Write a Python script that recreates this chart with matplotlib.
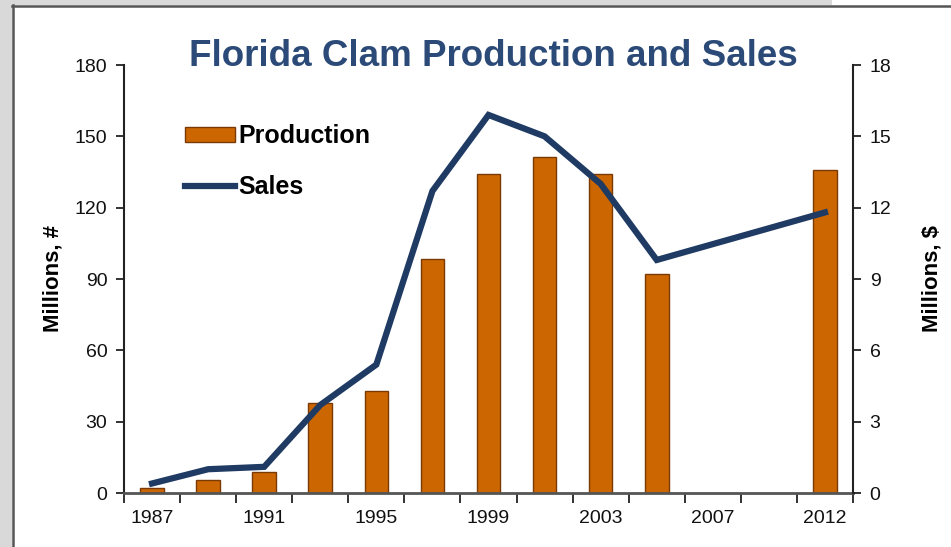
import matplotlib
matplotlib.use("Agg")
import matplotlib.pyplot as plt
from matplotlib.patches import Rectangle
from matplotlib.lines import Line2D
import numpy as np

plt.rcParams['font.family'] = ['Liberation Sans', 'DejaVu Sans']

years = ["1987", "1989", "1991", "1993", "1995", "1997", "1999",
         "2001", "2003", "2005", "2007", "2010", "2012"]
production = [2, 5.5, 9, 38, 43, 98.5, 134, 141.5, 134, 92, None, None, 136]   # millions of clams
sales = [0.4, 1.0, 1.1, 3.7, 5.4, 12.7, 15.9, 15.0, 13.0, 9.8, None, None, 11.8]  # millions of dollars
shown_labels = ["1987", "1991", "1995", "1999", "2003", "2007", "2012"]

BAR_COLOR = "#CC6600"
BAR_EDGE = "#7A3A05"
LINE_COLOR = "#1F3B63"
TITLE_COLOR = "#2B4A78"
AXIS_COLOR = "#222222"

fig = plt.figure(figsize=(9.51, 5.47), dpi=100)

# grey window frame around the slide
fig.patches.append(Rectangle((0, 0), 12 / 951, 1, transform=fig.transFigure,
                             facecolor="#D9D9D9", edgecolor="none", zorder=0))
fig.patches.append(Rectangle((0, 1 - 5 / 547), 832 / 951, 5 / 547, transform=fig.transFigure,
                             facecolor="#D9D9D9", edgecolor="none", zorder=0))
fig.lines.append(Line2D([13 / 951, 13 / 951], [0, 1 - 5 / 547], transform=fig.transFigure,
                        color="#555555", lw=1.8))
fig.lines.append(Line2D([12 / 951, 1], [1 - 5.5 / 547, 1 - 5.5 / 547], transform=fig.transFigure,
                        color="#555555", lw=1.8))

ax = fig.add_axes([124 / 951, 1 - 493 / 547, (853 - 124) / 951, (493 - 65) / 547])
ax.patch.set_alpha(0)
x = np.arange(len(years))

bx = [i for i, v in zip(x, production) if v is not None]
bv = [v for v in production if v is not None]
ax.bar(bx, bv, width=0.42, color=BAR_COLOR, edgecolor=BAR_EDGE, linewidth=1.0,
       label="Production", zorder=2)

ax.set_xlim(-0.5, len(years) - 0.5)
ax.set_ylim(0, 180)
ax.set_yticks(range(0, 181, 30))
ax.set_xticks(x)
ax.set_xticklabels([y if y in shown_labels else "" for y in years])
ax.set_xticks(np.arange(-0.5, len(years), 1), minor=True)
ax.tick_params(axis="x", which="major", length=0, pad=12, labelsize=14, labelcolor="#111111")
ax.tick_params(axis="x", which="minor", length=7, width=1.3, direction="out", color=AXIS_COLOR)
ax.tick_params(axis="y", length=6, width=1.3, direction="out", labelsize=14, pad=6,
               color=AXIS_COLOR, labelcolor="#111111")
ax.spines["left"].set_linewidth(1.5)
ax.spines["left"].set_color(AXIS_COLOR)
ax.spines["bottom"].set_color("#555555")
ax.spines["bottom"].set_linewidth(2)
ax.spines["top"].set_visible(False)
ax.spines["right"].set_visible(False)
ax.set_ylabel("Millions, #", fontsize=16, fontweight="bold", labelpad=8)

ax2 = ax.twinx()
lx = [i for i, v in zip(x, sales) if v is not None]
lv = [v for v in sales if v is not None]
ax2.plot(lx, lv, color=LINE_COLOR, lw=4.5, solid_joinstyle="miter", label="Sales", zorder=3)
ax2.set_ylim(0, 18)
ax2.set_yticks(range(0, 19, 3))
ax2.tick_params(axis="y", length=6, width=1.3, direction="out", labelsize=14, pad=6,
                color=AXIS_COLOR, labelcolor="#111111")
ax2.spines["right"].set_linewidth(1.5)
ax2.spines["right"].set_color(AXIS_COLOR)
for side in ("top", "left", "bottom"):
    ax2.spines[side].set_visible(False)
ax2.set_ylabel("Millions, $", fontsize=16, fontweight="bold", labelpad=22)

fig.text(493 / 951, 1 - 56 / 547, "Florida Clam Production and Sales", ha="center", va="center",
         fontsize=26.5, fontweight="bold", color=TITLE_COLOR)

h1, l1 = ax.get_legend_handles_labels()
h2, l2 = ax2.get_legend_handles_labels()
leg = ax.legend(h1 + h2, l1 + l2, loc="upper left", bbox_to_anchor=(185 / 951, 1 - 124 / 547),
                bbox_transform=fig.transFigure, frameon=False, borderpad=0, borderaxespad=0,
                handlelength=2.0, handleheight=0.55, handletextpad=0.15, labelspacing=1.1,
                prop={"size": 18, "weight": "bold"})

fig.savefig("out.png", dpi=100)
